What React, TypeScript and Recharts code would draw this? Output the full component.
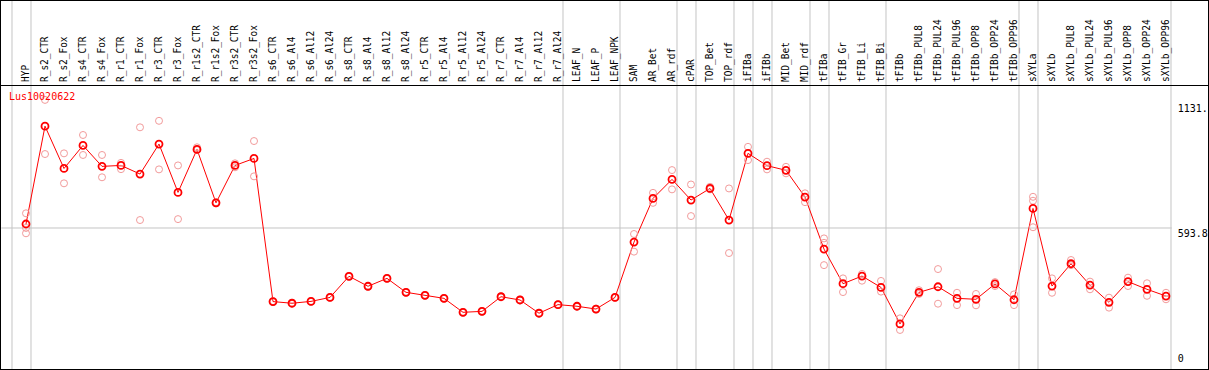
import { Line, LineChart, ReferenceLine, XAxis, YAxis } from "recharts";

const categories = [
  "HYP", "R_s2_CTR", "R_s2_Fox", "R_s4_CTR", "R_s4_Fox", "R_r1_CTR", "R_r1_Fox", "R_r3_CTR", "R_r3_Fox",
  "R_r1s2_CTR", "R_r1s2_Fox", "R_r3s2_CTR", "R_r3s2_Fox", "R_s6_CTR", "R_s6_Al4", "R_s6_Al12", "R_s6_Al24",
  "R_s8_CTR", "R_s8_Al4", "R_s8_Al12", "R_s8_Al24", "R_r5_CTR", "R_r5_Al4", "R_r5_Al12", "R_r5_Al24",
  "R_r7_CTR", "R_r7_Al4", "R_r7_Al12", "R_r7_Al24", "LEAF_N", "LEAF_P", "LEAF_NPK", "SAM", "AR_Bet", "AR_rdf",
  "cPAR", "TOP_Bet", "TOP_rdf", "iFIBa", "iFIBb", "MID_Bet", "MID_rdf", "tFIBa", "tFIB_Gr", "tFIB_Li", "tFIB_Bi",
  "tFIBb", "tFIBb_PUL8", "tFIBb_PUL24", "tFIBb_PUL96", "tFIBb_OPP8", "tFIBb_OPP24", "tFIBb_OPP96", "sXYLa",
  "sXYLb", "sXYLb_PUL8", "sXYLb_PUL24", "sXYLb_PUL96", "sXYLb_OPP8", "sXYLb_OPP24", "sXYLb_OPP96",
];

// mean expression per sample
const means = [
  611, 1032, 850, 949, 859, 863, 826, 955, 747, 932, 702, 863, 893,
  277, 270, 278, 295, 386, 343, 377, 317, 304, 291, 231, 235, 298, 284, 227, 264,
  257, 245, 295, 533, 721, 803, 714, 764, 628, 915, 862, 842, 727,
  503, 354, 387, 338, 181, 317, 341, 291, 287, 353, 285,
  678, 344, 440, 348, 274, 363, 330, 301,
];

// individual replicates
const replicates = [
  [657, 594, 571], [1145, 912], [915, 786], [994, 908], [908, 812], [874, 847], [1027, 628], [1055, 846],
  [863, 632], [941, 929], [700, 705], [872, 855], [968, 816],
  [279, 275], [272, 268], [280, 276], [297, 293], [388, 384], [345, 341], [379, 375], [319, 315],
  [306, 302], [293, 289], [233, 229], [237, 233], [300, 296], [286, 282], [229, 225], [266, 262],
  [259, 255], [247, 243], [297, 293], [568, 492], [745, 702], [843, 760], [781, 645], [771, 760],
  [764, 486], [943, 886], [879, 846], [857, 829], [743, 705], [549, 530, 434], [377, 318], [396, 367],
  [366, 320], [205, 155], [326, 310], [417, 268], [315, 262], [310, 261], [361, 344], [308, 262],
  [728, 711, 597], [377, 315], [456, 434], [363, 330], [294, 251], [380, 344], [356, 302], [315, 287],
];

// group separators sit just right of these sample indices
const separatorsAfter = [-1, 0, 28, 31, 34, 35, 37, 38, 39, 41, 42, 45, 52, 53, 60];

const yTicks = [0, 593.8, 1131];
const yTickLabels = ["0", "593.8", "1131."];
const gridValue = 593.8;
const title = "Lus10020622";

const data = categories.map((name, i) => ({
  i,
  name,
  mean: means[i],
  r0: replicates[i][0] ?? null,
  r1: replicates[i][1] ?? null,
  r2: replicates[i][2] ?? null,
}));

const W = 1209;
const H = 370;
const HEADER = 85;
const mono = "'DejaVu Sans Mono', monospace";
const repColor = "#f29b9b";

const renderCategoryTick = (props: any) => {
  const { x, payload, index } = props;
  return (
    <text
      key={`c-${index}`}
      transform={`translate(${Math.round(x) + 3},${HEADER - 3}) rotate(-90) scale(0.86,1)`}
      fontFamily={mono}
      fontSize={11}
      fill="#000"
      textAnchor="start"
    >
      {categories[payload.value]}
    </text>
  );
};

const renderValueTick = (props: any) => {
  const { x, y, payload, index } = props;
  const idx = yTicks.indexOf(payload.value);
  const base = payload.value === 0 ? y - 4 : y + 9;
  return (
    <text key={`v-${index}`} x={x - 2} y={base} fontFamily={mono} fontSize={10} fill="#000" textAnchor="start">
      {yTickLabels[idx]}
    </text>
  );
};

export default function App() {
  return (
    <div style={{ position: "absolute", left: 0, top: 0, width: W, height: H, background: "#fff" }}>
      <LineChart width={W} height={H} data={data} margin={{ top: 0, right: 0, bottom: 1, left: 1.3 }}>
        <XAxis
          type="number"
          dataKey="i"
          orientation="top"
          height={1}
          domain={[-1.3, 60.3]}
          ticks={data.map((d) => d.i)}
          interval={0}
          axisLine={false}
          tickLine={false}
          tick={renderCategoryTick}
        />
        <YAxis
          orientation="right"
          width={37.3}
          domain={[-13, 1570.6]}
          ticks={yTicks}
          interval={0}
          axisLine={false}
          tickLine={false}
          tick={renderValueTick}
        />
        {separatorsAfter.map((s) => (
          <ReferenceLine key={s} x={s + 0.263} stroke="#c4c4c4" strokeWidth={1} ifOverflow="extendDomain" />
        ))}
        <ReferenceLine y={gridValue} stroke="#c4c4c4" strokeWidth={1} />
        {["r0", "r1", "r2"].map((k) => (
          <Line
            key={k}
            dataKey={k}
            stroke="none"
            isAnimationActive={false}
            dot={{ r: 3.5, stroke: repColor, strokeWidth: 1, fill: "none" }}
            activeDot={false}
          />
        ))}
        <Line
          dataKey="mean"
          stroke="#ff0000"
          strokeWidth={1}
          isAnimationActive={false}
          dot={{ r: 3.5, stroke: "#ff0000", strokeWidth: 1.8, fill: "none" }}
          activeDot={false}
        />
      </LineChart>
      <div style={{ position: "absolute", left: 0, top: HEADER, width: W, height: 1, background: "#000" }} />
      <div
        style={{
          position: "absolute",
          left: 9,
          top: 91,
          color: "#ff0000",
          fontFamily: mono,
          fontSize: 10,
          lineHeight: "12px",
        }}
      >
        {title}
      </div>
      <div
        style={{
          position: "absolute",
          left: 0,
          top: 0,
          width: W,
          height: H,
          boxSizing: "border-box",
          border: "1px solid #000",
          pointerEvents: "none",
        }}
      />
    </div>
  );
}
